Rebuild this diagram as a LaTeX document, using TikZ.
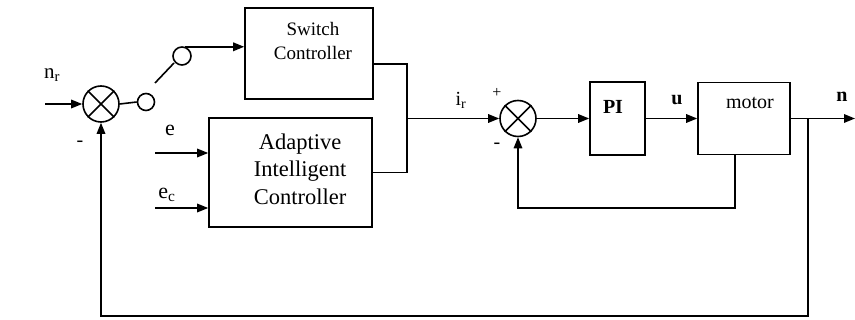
\documentclass[tikz,border=0pt]{standalone}
\usepackage{fontspec}
\setmainfont{Liberation Serif}
\usetikzlibrary{arrows.meta}
\begin{document}
\begin{tikzpicture}[x=1pt,y=-1pt,
  line width=1.6pt,
  blk/.style={draw,rectangle,inner sep=0pt},
  sumnode/.style={draw,circle,minimum size=36pt,inner sep=0pt},
  swc/.style={draw,circle,minimum size=17pt,inner sep=0pt},
  arr/.style={-{Triangle[length=11pt,width=8.5pt]}},
  txt/.style={font=\fontsize{20}{24}\selectfont,inner sep=0pt},
  big/.style={font=\fontsize{22.5}{27.5}\selectfont,align=center,inner sep=0pt},
  small/.style={font=\fontsize{19}{24}\selectfont,align=center,inner sep=0pt}]
\useasboundingbox (0,0) rectangle (855,320);
% blocks
\node[blk,minimum width=128pt,minimum height=91pt] (sw) at (309,53.5) {};
\node[small] (swt) at (313,41) {Switch\\Controller};
\node[blk,minimum width=163pt,minimum height=109pt] (aic) at (290.5,172.5) {};
\node[big] (aict) at (300,169) {Adaptive\\Intelligent\\Controller};
\node[blk,minimum width=55pt,minimum height=73pt] (pi) at (617.5,118.5) {};
\node[txt,font=\fontsize{20}{24}\selectfont\bfseries] (pit) at (613,107) {PI};
\node[blk,minimum width=92pt,minimum height=72pt] (mot) at (744,118.5) {};
\node[txt] (mott) at (750,103) {motor};
% summing junctions
\node[sumnode] (s1) at (101,104) {};
\draw (s1.north west) -- (s1.south east) (s1.north east) -- (s1.south west);
\node[sumnode] (s2) at (518,118.5) {};
\draw (s2.north west) -- (s2.south east) (s2.north east) -- (s2.south west);
% switch
\node[swc] (sc1) at (146,102) {};
\node[swc,minimum size=18pt] (sc2) at (182,56) {};
\coordinate (b1) at (155,83);
\coordinate (b2) at (174,63);
\draw (b1) -- (b2);
\draw (s1.east) -- (sc1.west);
\draw[arr] (sc2.70) -- (sw.west |- sc2.70);
% inputs
\coordinate (nin) at (45,104);
\draw[arr] (nin) -- (s1.west);
\coordinate (ein) at (155,153);
\draw[arr] (ein) -- (aic.west |- ein);
\coordinate (ecin) at (155,208);
\draw[arr] (ecin) -- (aic.west |- ecin);
% controller outputs
\coordinate (swo) at (373,64);
\coordinate (j) at (407,118.5);
\draw (swo) -| (j) |- (aic.east);
\draw[arr] (j) -- (s2.west);
\draw[arr] (s2.east) -- (pi.west);
\draw[arr] (pi.east) -- (mot.west);
\coordinate (out) at (855,118.5);
\draw[arr] (mot.east) -- (out);
% feedback loops
\coordinate (tap) at (808,118.5);
\coordinate (fb) at (808,316);
\draw[arr] (tap) -- (fb) -| (s1.south);
\coordinate (mb) at (735,155);
\coordinate (ib) at (735,208);
\draw[arr] (mb) -- (ib) -| (s2.south);
% labels
\node[txt,font=\fontsize{21}{24}\selectfont] (lnr) at (52,75) {n\textsubscript{r}};
\node[txt] (lm1) at (80,144) {-};
\node[txt,font=\fontsize{22}{24}\selectfont] (le) at (170,130) {e};
\node[txt,font=\fontsize{22}{24}\selectfont] (lec) at (167,195) {e\textsubscript{c}};
\node[txt] (lir) at (461,100) {i\textsubscript{r}};
\node[txt,font=\fontsize{16}{20}\selectfont] (lp2) at (497,93) {+};
\node[txt] (lm2) at (497,146) {-};
\node[txt,font=\fontsize{20}{24}\selectfont\bfseries] (lu) at (677,100) {u};
\node[txt,font=\fontsize{20}{24}\selectfont\bfseries] (ln) at (842,97) {n};
\end{tikzpicture}
\end{document}
